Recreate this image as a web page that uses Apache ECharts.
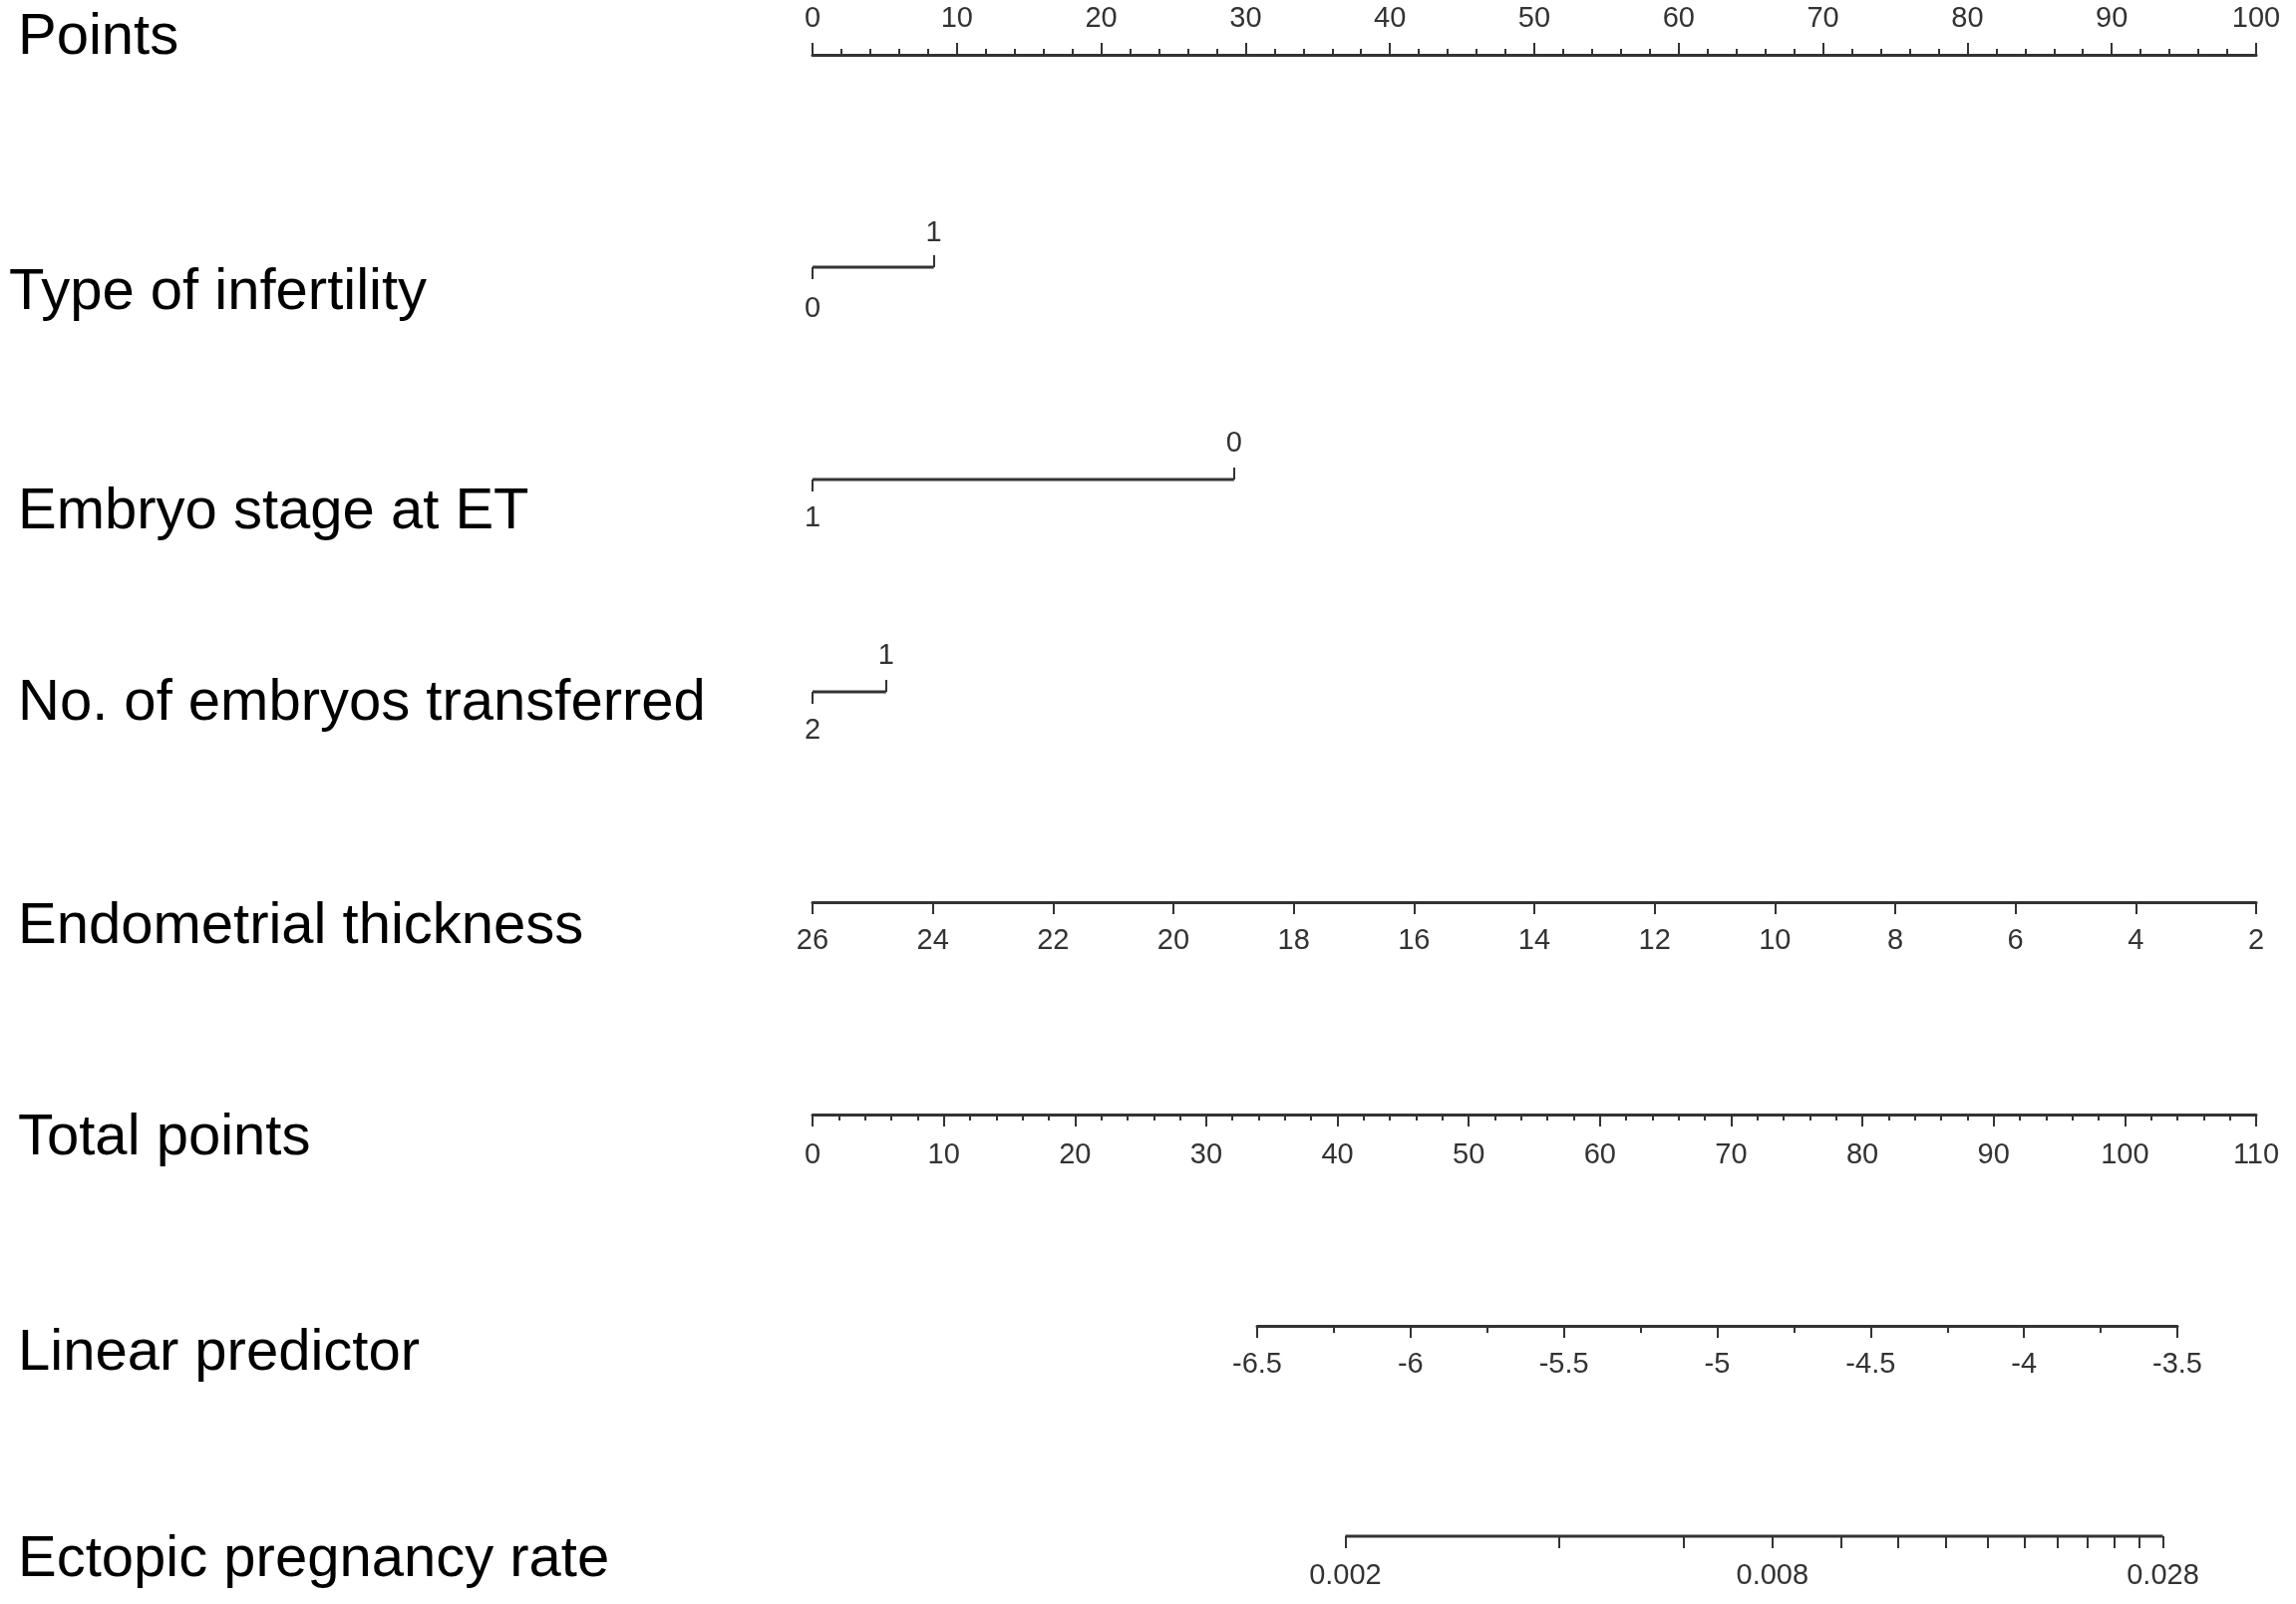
<!DOCTYPE html>
<html>
<head>
<meta charset="utf-8">
<script src="https://cdn.jsdelivr.net/npm/echarts@6/dist/echarts.min.js"></script>
<style>
html, body { margin: 0; padding: 0; background: #fff; }
#chart1 { width: 2303px; height: 1609px; }
</style>
</head>
<body>
<div id="chart1"></div>
<script>
// nomogram data
const rowTitles = ['Points', 'Type of infertility', 'Embryo stage at ET', 'No. of embryos transferred',
    'Endometrial thickness', 'Total points', 'Linear predictor', 'Ectopic pregnancy rate'];

const pointsRange = [0, 100];
const typeInfertilityLevels = ['0', '1'];
const typeInfertilityPoints = [0, 8.4];
const embryoStageLevels = ['1', '0'];
const embryoStagePoints = [0, 29.2];
const embryosTransferredLevels = ['2', '1'];
const embryosTransferredPoints = [0, 5.1];
const endometrialRange = [2, 26];      // 26 -> 0 points, 2 -> 100 points
const totalPointsRange = [0, 110];
const linearPredictorRange = [-6.5, -3.5];
const ectopicTicks = [0.002, 0.004, 0.006, 0.008, 0.010, 0.012, 0.014, 0.016,
    0.018, 0.020, 0.022, 0.024, 0.026, 0.028];
const ectopicLabels = [0.002, 0.008, 0.028];

// layout
const FONT = 'Liberation Sans, Arial, Helvetica, sans-serif';
const INK = '#333';
const pointsGrid = { left: 815, right: 40 };
const lpGrid = { left: 1261, right: 119 };
const rowLineY = [55, 268, 481, 694, 905, 1118, 1330, 1541];
const titleX = [18, 9, 18, 18, 18, 18, 18, 18];
const titleY = [38, 294, 514, 706, 930, 1142, 1358, 1565];

function logit(p) { return Math.log(p / (1 - p)); }

function makeGrid(row, g) {
    return { left: g.left, right: g.right, top: rowLineY[row] - 10, height: 10 };
}

let tickStyle = { show: true, length: 12, lineStyle: { color: INK, width: 2 } };
let lineStyle = { show: true, lineStyle: { color: INK, width: 3 } };
let labelStyle = { color: INK, fontSize: 29, fontFamily: FONT };

let grids = [
    makeGrid(0, pointsGrid), makeGrid(1, pointsGrid), makeGrid(2, pointsGrid), makeGrid(3, pointsGrid),
    makeGrid(4, pointsGrid), makeGrid(5, pointsGrid), makeGrid(6, lpGrid), makeGrid(7, lpGrid)
];

let yAxes = grids.map(function (g, i) {
    return { gridIndex: i, type: 'value', min: 0, max: 1, show: false };
});

// two-level factor rows: first level labelled below, second above
function factorAxes(gridIndex, levels, pts, marginBelow, marginAbove) {
    function fmt(v) { return levels[pts.indexOf(v)]; }
    return [{
        gridIndex: gridIndex, type: 'value', position: 'bottom',
        min: pointsRange[0], max: pointsRange[1],
        axisLine: { show: false }, splitLine: { show: false },
        axisTick: Object.assign({}, tickStyle, { customValues: [pts[0]] }),
        axisLabel: Object.assign({}, labelStyle, { customValues: [pts[0]], margin: marginBelow, formatter: fmt })
    }, {
        gridIndex: gridIndex, type: 'value', position: 'bottom',
        min: pointsRange[0], max: pointsRange[1],
        axisLine: { show: false }, splitLine: { show: false },
        axisTick: Object.assign({}, tickStyle, { inside: true, customValues: [pts[1]] }),
        axisLabel: Object.assign({}, labelStyle, { inside: true, customValues: [pts[1]], margin: marginAbove, formatter: fmt })
    }];
}

let xAxes = [];
// Points: drawn on the bottom edge of its strip, ticks and labels turned upwards
xAxes.push({
    gridIndex: 0, type: 'value', position: 'bottom',
    min: pointsRange[0], max: pointsRange[1], interval: 10,
    axisLine: lineStyle, splitLine: { show: false },
    axisTick: Object.assign({}, tickStyle, { inside: true }),
    minorTick: { show: true, splitNumber: 5, length: 6, lineStyle: { color: INK, width: 2 } },
    axisLabel: Object.assign({}, labelStyle, { inside: true, margin: 22 })
});
xAxes = xAxes.concat(factorAxes(1, typeInfertilityLevels, typeInfertilityPoints, 27, 20));
xAxes = xAxes.concat(factorAxes(2, embryoStageLevels, embryoStagePoints, 24, 22));
xAxes = xAxes.concat(factorAxes(3, embryosTransferredLevels, embryosTransferredPoints, 24, 22));
// Endometrial thickness
xAxes.push({
    gridIndex: 4, type: 'value', position: 'bottom', inverse: true,
    min: endometrialRange[0], max: endometrialRange[1], interval: 2,
    axisLine: lineStyle, splitLine: { show: false },
    axisTick: tickStyle,
    axisLabel: Object.assign({}, labelStyle, { margin: 24 })
});
// Total points
xAxes.push({
    gridIndex: 5, type: 'value', position: 'bottom',
    min: totalPointsRange[0], max: totalPointsRange[1], interval: 10,
    axisLine: lineStyle, splitLine: { show: false },
    axisTick: tickStyle,
    minorTick: { show: true, splitNumber: 5, length: 6, lineStyle: { color: INK, width: 2 } },
    axisLabel: Object.assign({}, labelStyle, { margin: 26 })
});
// Linear predictor
xAxes.push({
    gridIndex: 6, type: 'value', position: 'bottom',
    min: linearPredictorRange[0], max: linearPredictorRange[1], interval: 0.5,
    axisLine: lineStyle, splitLine: { show: false },
    axisTick: tickStyle,
    minorTick: { show: true, splitNumber: 2, length: 7, lineStyle: { color: INK, width: 2 } },
    axisLabel: Object.assign({}, labelStyle, { margin: 24 })
});
// Ectopic pregnancy rate, placed on the linear predictor scale
xAxes.push({
    gridIndex: 7, type: 'value', position: 'bottom',
    min: linearPredictorRange[0], max: linearPredictorRange[1],
    axisLine: { show: false }, splitLine: { show: false },
    axisTick: Object.assign({}, tickStyle, { customValues: ectopicTicks.map(logit) }),
    axisLabel: Object.assign({}, labelStyle, {
        margin: 25,
        customValues: ectopicLabels.map(logit),
        formatter: function (v) { return (1 / (1 + Math.exp(-v))).toFixed(3); }
    })
});

function segment(xIdx, yIdx, x0, x1) {
    return {
        type: 'line', xAxisIndex: xIdx, yAxisIndex: yIdx,
        data: [[x0, 0], [x1, 0]],
        showSymbol: false, symbol: 'none', clip: false, silent: true,
        lineStyle: { color: INK, width: 3 }
    };
}

let series = [
    segment(1, 1, typeInfertilityPoints[0], typeInfertilityPoints[1]),
    segment(3, 2, embryoStagePoints[0], embryoStagePoints[1]),
    segment(5, 3, embryosTransferredPoints[0], embryosTransferredPoints[1]),
    segment(10, 7, logit(ectopicTicks[0]), logit(ectopicTicks[ectopicTicks.length - 1]))
];

let titles = rowTitles.map(function (t, i) {
    return {
        type: 'text', left: titleX[i], top: titleY[i] - 29,
        style: { text: t, fill: '#000', fontSize: 58, fontFamily: FONT }
    };
});

let dom1 = document.getElementById('chart1');
let Chart1 = echarts.init(dom1);
let option1 = {
    animation: false,
    backgroundColor: '#fff',
    grid: grids,
    xAxis: xAxes,
    yAxis: yAxes,
    series: series,
    graphic: titles
};
Chart1.setOption(option1);
</script>
</body>
</html>
